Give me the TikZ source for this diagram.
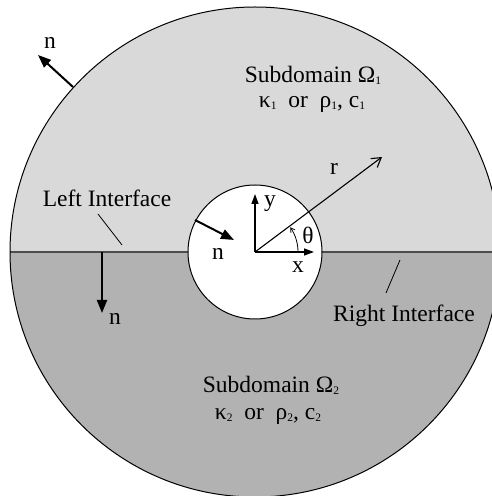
\documentclass[tikz,border=0pt]{standalone}
\usepackage{fontspec}
\setmainfont{Liberation Serif}
\usetikzlibrary{arrows.meta}
\newcommand{\mysub}[1]{\raisebox{-1.5pt}{\fontsize{11.5}{11.5}\selectfont #1}}
\tikzset{
  lbl/.style={inner sep=0pt, font=\fontsize{23.5}{28}\selectfont},
  narrow/.style={line width=2pt, -{Triangle[length=13pt,width=10pt]}},
  axis/.style={line width=1.3pt, -{Triangle[length=10pt,width=7pt]}},
  leader/.style={line width=0.8pt},
}
\begin{document}
\begin{tikzpicture}[x=1pt,y=1pt]
\useasboundingbox (0,0) rectangle (492,496);
\clip (0,0) rectangle (492,496);
\coordinate (C) at (255,244);
% half disks
\fill[black!15] (C) ++(245,0) arc (0:180:245) -- cycle;
\fill[black!30] (C) ++(-245,0) arc (180:360:245) -- cycle;
% interface
\coordinate (IL) at (10,244);
\coordinate (IR) at (500,244);
\draw[line width=2pt, black!70] (IL) -- (IR);
% circles
\draw[line width=1pt] (C) circle (245);
\draw[line width=1pt, fill=white] (C) circle (67);
% outer normal
\coordinate (on1) at (73,409);
\coordinate (on2) at (38,441);
\draw[narrow] (on1) -- (on2);
\node[lbl] (onl) at (50,453) {n};
% inner normal
\coordinate (in1) at (195,276);
\coordinate (in2) at (234,256);
\draw[narrow] (in1) -- (in2);
\node[lbl] (inl) at (218,242) {n};
% interface normal
\coordinate (bn1) at (102,244);
\coordinate (bn2) at (102,183);
\draw[narrow] (bn1) -- (bn2);
\node[lbl] (bnl) at (115,177) {n};
% axes
\coordinate (Y) at (255,302);
\coordinate (X) at (314,244);
\draw[axis] (C) -- (Y);
\draw[axis] (C) -- (X);
\node[lbl] (yl) at (270,292) {y};
\node[lbl] (xl) at (298,229) {x};
% r
\coordinate (R) at (382,339);
\draw[line width=1.1pt, -{Straight Barb[length=9pt,width=11pt]}] (C) -- (R);
\node[lbl] (rl) at (334,327) {r};
% theta
\draw[line width=0.8pt, -{Straight Barb[length=4pt,width=5pt]}] (C) ++(43,0) arc (0:35:43);
\node[lbl] (tl) at (308,261) {θ};
% interfaces
\node[lbl, anchor=base] (lit) at (107,289) {Left Interface};
\coordinate (ll1) at (98,282);
\coordinate (ll2) at (122,251);
\draw[leader] (ll1) -- (ll2);
\node[lbl, anchor=base] (rit) at (404,174) {Right Interface};
\coordinate (rl1) at (400,236);
\coordinate (rl2) at (386,203);
\draw[leader] (rl1) -- (rl2);
% subdomains
\node[lbl, anchor=base] (s1a) at (313,413) {Subdomain Ω\mysub{1}};
\node[lbl, anchor=base] (s1b) at (312,388) {κ\mysub{1}\ \ or\ \ ρ\mysub{1}, c\mysub{1}};
\node[lbl, anchor=base] (s2a) at (271,103) {Subdomain Ω\mysub{2}};
\node[lbl, anchor=base] (s2b) at (268,76) {κ\mysub{2}\ \ or\ \ ρ\mysub{2}, c\mysub{2}};
\end{tikzpicture}
\end{document}
